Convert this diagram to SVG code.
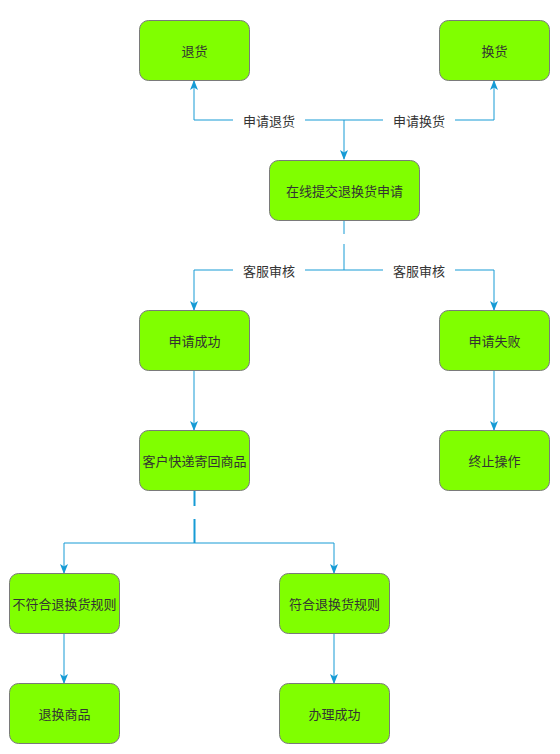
<svg xmlns="http://www.w3.org/2000/svg" width="560" height="754" viewBox="0 0 560 754">
<defs>
<style>
.node rect{fill:#80ff00;stroke:#7a7a7a;stroke-width:1}
text{font-family:"Noto Sans CJK SC","Liberation Sans",sans-serif;font-size:13px;fill:#333333;text-anchor:middle;dominant-baseline:central}
.edge{fill:none;stroke:#169bd5;stroke-width:1}
.lbl{fill:#ffffff;stroke:none}
</style>
<marker id="arr" viewBox="0 0 10 8" refX="9" refY="4" markerWidth="10" markerHeight="8" markerUnits="userSpaceOnUse" orient="auto">
<path d="M0,0 L10,4 L0,8 L2.5,4 z" fill="#169bd5"/>
</marker>
</defs>
<rect width="560" height="754" fill="#ffffff"/>
<g id="connectors">
<path class="edge" d="M344,120 L344,159" marker-end="url(#arr)"/>
<path class="edge" d="M194,120 L494,120"/>
<path class="edge" d="M194,120 L194,81" marker-end="url(#arr)"/>
<path class="edge" d="M494,120 L494,81" marker-end="url(#arr)"/>
<rect class="lbl" x="233" y="112" width="72" height="16"/>
<rect class="lbl" x="383" y="112" width="72" height="16"/>
<text x="269" y="120">申请退货</text>
<text x="419" y="120">申请换货</text>
<path class="edge" d="M344,220.5 L344,234 M344,244 L344,270"/>
<path class="edge" d="M194,270 L494,270"/>
<path class="edge" d="M194,270 L194,310" marker-end="url(#arr)"/>
<path class="edge" d="M494,270 L494,310" marker-end="url(#arr)"/>
<rect class="lbl" x="233" y="262" width="72" height="16"/>
<rect class="lbl" x="383" y="262" width="72" height="16"/>
<text x="269" y="270">客服审核</text>
<text x="419" y="270">客服审核</text>
<path class="edge" d="M194,370.5 L194,430" marker-end="url(#arr)"/>
<path class="edge" d="M494,370.5 L494,430" marker-end="url(#arr)"/>
<path class="edge" d="M194.5,490.5 L194.5,506 M194.5,519 L194.5,543" style="stroke-width:2"/>
<path class="edge" d="M64,543 L334,543"/>
<path class="edge" d="M64,543 L64,573" marker-end="url(#arr)"/>
<path class="edge" d="M334,543 L334,573" marker-end="url(#arr)"/>
<path class="edge" d="M64,633.5 L64,683" marker-end="url(#arr)"/>
<path class="edge" d="M334,633.5 L334,683" marker-end="url(#arr)"/>
</g>
<g id="n-return" class="node"><rect x="139.5" y="20.5" width="110" height="60" rx="9"/><text x="194.5" y="50.5">退货</text></g>
<g id="n-exchange" class="node"><rect x="439.5" y="20.5" width="110" height="60" rx="9"/><text x="494.5" y="50.5">换货</text></g>
<g id="n-submit" class="node"><rect x="269.5" y="160.5" width="150" height="60" rx="9"/><text x="344.5" y="190.5">在线提交退换货申请</text></g>
<g id="n-success" class="node"><rect x="139.5" y="310.5" width="110" height="60" rx="9"/><text x="194.5" y="340.5">申请成功</text></g>
<g id="n-fail" class="node"><rect x="439.5" y="310.5" width="110" height="60" rx="9"/><text x="494.5" y="340.5">申请失败</text></g>
<g id="n-ship" class="node"><rect x="139.5" y="430.5" width="110" height="60" rx="9"/><text x="194.5" y="460.5">客户快递寄回商品</text></g>
<g id="n-stop" class="node"><rect x="439.5" y="430.5" width="110" height="60" rx="9"/><text x="494.5" y="460.5">终止操作</text></g>
<g id="n-noncompliant" class="node"><rect x="9.5" y="573.5" width="110" height="60" rx="9"/><text x="64.5" y="603.5">不符合退换货规则</text></g>
<g id="n-compliant" class="node"><rect x="279.5" y="573.5" width="110" height="60" rx="9"/><text x="334.5" y="603.5">符合退换货规则</text></g>
<g id="n-goods" class="node"><rect x="9.5" y="683.5" width="110" height="60" rx="9"/><text x="64.5" y="713.5">退换商品</text></g>
<g id="n-done" class="node"><rect x="279.5" y="683.5" width="110" height="60" rx="9"/><text x="334.5" y="713.5">办理成功</text></g>
</svg>
